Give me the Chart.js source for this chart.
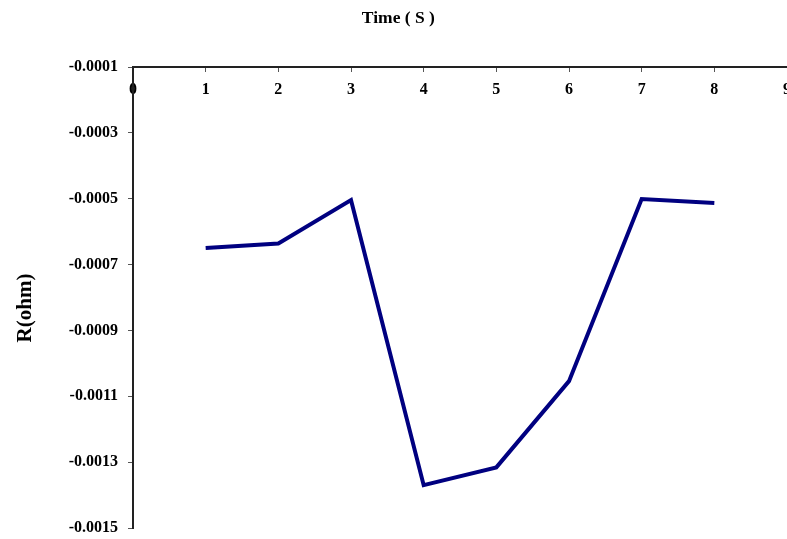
<!DOCTYPE html>
<html>
<head>
<meta charset="utf-8">
<script src="https://cdn.jsdelivr.net/npm/chart.js@4.4.1/dist/chart.umd.min.js"></script>
<style>
  html, body { margin: 0; padding: 0; background: #fff; }
  #wrap { width: 787px; height: 539px; }
</style>
</head>
<body>
<div id="wrap"><canvas id="c" width="787" height="539"></canvas></div>
<script>
const timeValues = [1, 2, 3, 4, 5, 6, 7, 8];
const resistanceValues = [-0.00065, -0.000636, -0.000504, -0.00137, -0.001316, -0.001054, -0.000501, -0.000513];
const xTickValues = [0, 1, 2, 3, 4, 5, 6, 7, 8, 9];
const yTickValues = [-0.0015, -0.0013, -0.0011, -0.0009, -0.0007, -0.0005, -0.0003, -0.0001];

const points = timeValues.map((t, i) => ({ x: t, y: resistanceValues[i] }));
const serif = "'Liberation Serif', 'Times New Roman', serif";

new Chart(document.getElementById('c'), {
  type: 'line',
  data: {
    datasets: [{
      data: points,
      borderColor: '#000080',
      borderWidth: 4,
      pointRadius: 0,
      tension: 0,
      fill: false
    }]
  },
  options: {
    responsive: false,
    animation: false,
    layout: { autoPadding: false, padding: { left: 0, right: -1, top: 0, bottom: 11 } },
    plugins: {
      legend: { display: false },
      tooltip: { enabled: false },
      title: {
        display: true,
        text: '  Time ( S )',
        color: '#000',
        font: { family: serif, size: 17.5, weight: 'bold', lineHeight: 1.2 },
        padding: { top: 8, bottom: 0 }
      }
    },
    scales: {
      x: {
        type: 'linear',
        position: 'top',
        min: 0,
        max: 9,
        afterFit: s => { s.height = 38; s.paddingLeft = 0; s.paddingRight = 0; },
        afterBuildTicks: s => { s.ticks = xTickValues.map(v => ({ value: v })); },
        grid: { drawOnChartArea: false, tickLength: -5, color: '#555', tickWidth: 1 },
        border: { display: true, color: '#222', width: 2 },
        ticks: {
          mirror: true,
          padding: 13,
          color: '#000',
          font: { family: serif, size: 16, weight: 'bold' },
          maxRotation: 0,
          autoSkip: false,
          callback: v => String(v)
        }
      },
      y: {
        type: 'linear',
        position: 'left',
        min: -0.0015,
        max: -0.0001,
        afterFit: s => { s.width = 133; s.paddingTop = 0; s.paddingBottom = 0; },
        afterBuildTicks: s => { s.ticks = yTickValues.map(v => ({ value: v })); },
        grid: { drawOnChartArea: false, tickLength: 5, color: '#555', tickWidth: 1 },
        border: { display: true, color: '#222', width: 2 },
        ticks: {
          padding: 10,
          color: '#000',
          font: { family: serif, size: 16, weight: 'bold' },
          autoSkip: false,
          callback: v => v.toFixed(4)
        },
        title: {
          display: true,
          text: 'R(ohm)    ',
          color: '#000',
          font: { family: serif, size: 21, weight: 'bold', lineHeight: 1.2 },
          padding: { top: 13, bottom: 0 }
        }
      }
    }
  }
});
</script>
</body>
</html>
